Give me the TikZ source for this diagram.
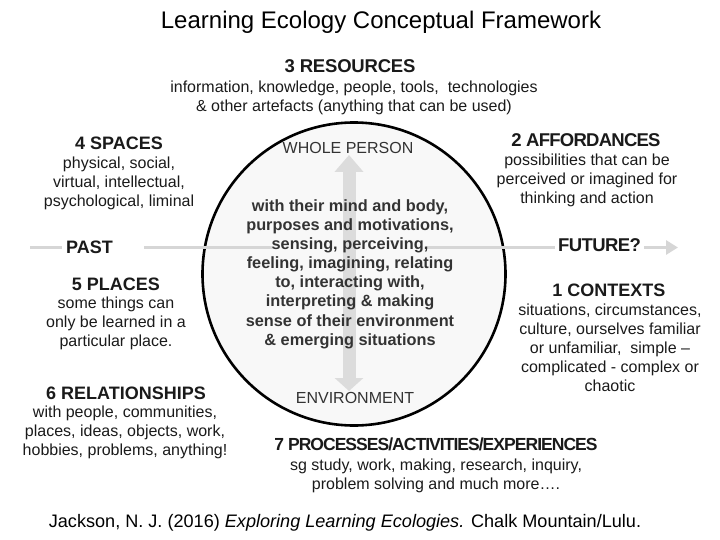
\documentclass[tikz,border=0pt]{standalone}
\usepackage{fontspec}
\setmainfont{Liberation Sans}
\newfontfamily\tightbf{Liberation Sans Bold}
\usetikzlibrary{arrows.meta}
\definecolor{txt}{HTML}{1A1A1A}
\definecolor{midtxt}{HTML}{333333}
\definecolor{linegray}{HTML}{D6D6D6}
\definecolor{arrgray}{HTML}{DCDCDC}
\definecolor{circfill}{HTML}{F8F8F8}
\tikzset{
  body/.style={align=center, inner sep=0pt, text=txt, font=\fontsize{16}{19}\selectfont},
  head/.style={inner sep=0pt, text=txt, font=\fontsize{18}{20}\selectfont\bfseries},
  thead/.style={inner sep=0pt, text=txt, font=\fontsize{18.5}{20}\selectfont\tightbf},
  midbody/.style={align=center, inner sep=0pt, text=midtxt, font=\fontsize{16.3}{19.1}\selectfont\bfseries},
  pole/.style={inner sep=0pt, text=midtxt, font=\fontsize{16}{18}\selectfont},
}
\begin{document}
\begin{tikzpicture}[x=1pt,y=-1pt]
\useasboundingbox (0,0) rectangle (720,540);
% circle
\node (circ) [circle, draw=black, line width=2.6pt, fill=circfill, minimum size=303pt, inner sep=0pt] at (354,274) {};
% time axis
\coordinate (tl) at (30,247.5);
\coordinate (tr) at (678,247.5);
\draw[linegray, line width=3.5pt, -{Triangle[width=14pt,length=12pt]}] (tl) -- (tr);
\node (gapmask) [fill=circfill, minimum width=153pt, minimum height=13pt, inner sep=0pt] at (349,247) {};
\node (past) [head, fill=white, anchor=west, inner xsep=4pt, inner ysep=3pt] at (62,247) {PAST\hspace*{27pt}};
\node (future) [thead, fill=white, inner xsep=3pt, inner ysep=3pt] at (599.5,245) {\addfontfeature{LetterSpace=-3}FUTURE?};
% vertical arrow
\coordinate (vt) at (349,155);
\coordinate (vb) at (349,391);
\draw[arrgray, line width=13pt, {Triangle[width=28pt,length=17pt]}-{Triangle[width=28pt,length=13pt]}] (vt) -- (vb);
% title
\node (title) [inner sep=0pt, text=black, font=\fontsize{24}{26}\selectfont] at (381,22) {Learning Ecology Conceptual Framework};
% 3 resources
\node (reshead) [thead] at (350,66) {\addfontfeature{LetterSpace=-1}3 RESOURCES};
\node (resbody) [body] at (354,98) {\strut information, knowledge, people, tools,\ \ technologies\\ \& other artefacts (anything that can be used)\strut};
% 4 spaces
\node (spahead) [head] at (119,143) {4 SPACES};
\node (spabody) [body] at (119,184) {\strut physical, social,\\ virtual, intellectual,\\ psychological, liminal\strut};
% 5 places
\node (plahead) [head] at (116,284) {5 PLACES};
\node (plabody) [body] at (116,324) {\strut some things can\\ only be learned in a\\ particular place.\strut};
% 6 relationships
\node (relhead) [head] at (126,393) {6 RELATIONSHIPS};
\node (relbody) [body] at (125,433) {\strut with people, communities,\\ places, ideas, objects, work,\\ hobbies, problems, anything!\strut};
% centre
\node (whole) [pole] at (348,148) {WHOLE PERSON};
\node (env) [pole] at (355,398) {ENVIRONMENT};
\node (mid) [midbody] at (350,274.5) {\strut with their mind and body,\\ purposes and motivations,\\ sensing, perceiving,\\ feeling, imagining, relating\\ to, interacting with,\\ interpreting \& making\\ sense of their environment\\ \& emerging situations\strut};
% 2 affordances
\node (affhead) [thead] at (586,140) {\addfontfeature{LetterSpace=-4}2 AFFORDANCES};
\node (affbody) [body] at (587,181) {\strut possibilities that can be\\ perceived or imagined for\\ thinking and action\strut};
% 1 contexts
\node (conhead) [head] at (609,290) {1 CONTEXTS};
\node (conbody) [body] at (610,349.5) {\strut situations, circumstances,\\ culture, ourselves familiar\\ or unfamiliar,\ \ simple –\\ complicated - complex or\\ chaotic\strut};
% 7 processes
\node (prohead) [thead] at (436,444) {\fontsize{17.5}{20}\selectfont\addfontfeature{LetterSpace=-5.5}7 PROCESSES/ACTIVITIES/EXPERIENCES};
\node (probody) [body] at (436,476.5) {\strut sg study, work, making, research, inquiry,\\ problem solving and much more….\strut};
% citation
\node (cite) [inner sep=0pt, text=black, font=\fontsize{18.1}{20}\selectfont] at (345,523) {Jackson, N. J. (2016) \textit{Exploring Learning Ecologies.} Chalk Mountain/Lulu.};
\end{tikzpicture}
\end{document}
